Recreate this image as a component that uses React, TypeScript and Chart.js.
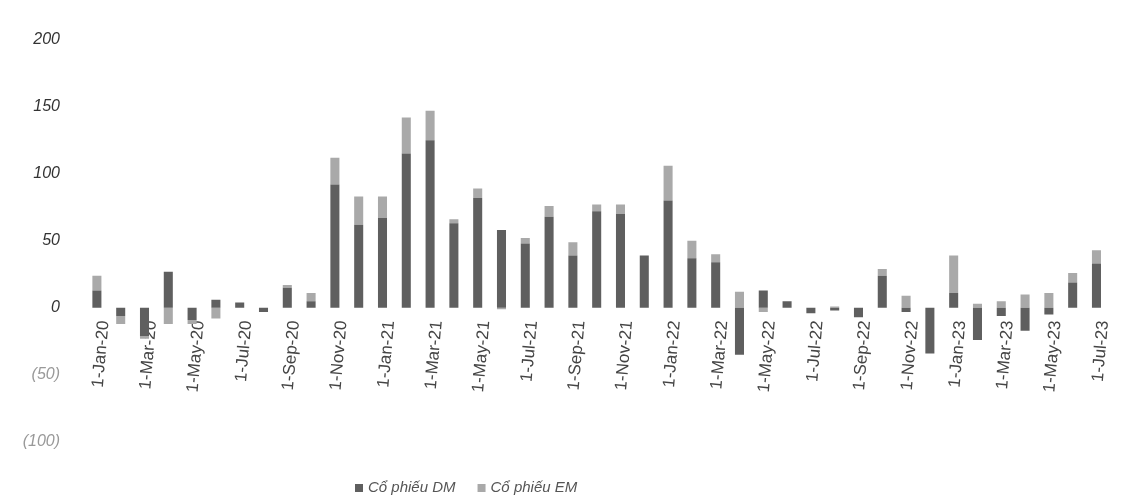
import React, { useEffect, useRef } from "react";
import { Chart, registerables } from "chart.js";

Chart.register(...registerables);

const categories = [
  "1-Jan-20", "1-Feb-20", "1-Mar-20", "1-Apr-20", "1-May-20", "1-Jun-20", "1-Jul-20", "1-Aug-20", "1-Sep-20", "1-Oct-20", "1-Nov-20", "1-Dec-20",
  "1-Jan-21", "1-Feb-21", "1-Mar-21", "1-Apr-21", "1-May-21", "1-Jun-21", "1-Jul-21", "1-Aug-21", "1-Sep-21", "1-Oct-21", "1-Nov-21", "1-Dec-21",
  "1-Jan-22", "1-Feb-22", "1-Mar-22", "1-Apr-22", "1-May-22", "1-Jun-22", "1-Jul-22", "1-Aug-22", "1-Sep-22", "1-Oct-22", "1-Nov-22", "1-Dec-22",
  "1-Jan-23", "1-Feb-23", "1-Mar-23", "1-Apr-23", "1-May-23", "1-Jun-23", "1-Jul-23",
];

const dmValues = [
  13, -6, -21, 27, -9, 6, 4, -3, 15, 5, 92, 62,
  67, 115, 125, 63, 82, 58, 48, 68, 39, 72, 70, 39,
  80, 37, 34, -35, 13, 5, -4, -2, -7, 24, -3, -34,
  11, -24, -6, -17, -5, 19, 33,
];

const emValues = [
  11, -6, -2, -12, -3, -8, 0, 0, 2, 6, 20, 21,
  16, 27, 22, 3, 7, -1, 4, 8, 10, 5, 7, 0,
  26, 13, 6, 12, -3, 0, 0, 1, 0, 5, 9, 0,
  28, 3, 5, 10, 11, 7, 10,
];

const seriesNames = ["Cổ phiếu DM", "Cổ phiếu EM"];
const yTickValues = [200, 150, 100, 50, 0, -50, -100];

const legendPlugin = {
  id: "customLegend",
  afterDraw(chart: any) {
    const ctx = chart.ctx;
    ctx.save();
    ctx.font = 'italic 15px "Liberation Sans", Arial, sans-serif';
    ctx.textBaseline = "middle";
    let x = 347;
    const y = 483;
    chart.data.datasets.forEach((ds: any) => {
      ctx.fillStyle = ds.backgroundColor;
      ctx.fillRect(x, y - 4, 8, 8);
      x += 13;
      ctx.fillStyle = "#555";
      ctx.fillText(ds.label, x, y);
      x += ctx.measureText(ds.label).width + 22;
    });
    ctx.restore();
  },
};

export default function App() {
  const ref = useRef<HTMLCanvasElement | null>(null);
  useEffect(() => {
    if (!ref.current) return;
    const chart = new Chart(ref.current, {
      type: "bar",
      data: {
        labels: categories,
        datasets: [
          { label: seriesNames[0], data: dmValues, backgroundColor: "#5f5f5f" },
          { label: seriesNames[1], data: emValues, backgroundColor: "#a9a9a9" },
        ],
      },
      options: {
        animation: false,
        responsive: true,
        maintainAspectRatio: false,
        layout: { padding: { top: 18, right: 18, left: 0, bottom: 53 } },
        datasets: { bar: { categoryPercentage: 1, barPercentage: 0.38 } },
        plugins: { legend: { display: false }, tooltip: { enabled: false } },
        scales: {
          x: {
            stacked: true,
            position: { y: 0 } as any,
            grid: { display: false, drawTicks: false },
            border: { display: false },
            ticks: {
              autoSkip: false,
              minRotation: 85,
              maxRotation: 85,
              padding: 12,
              labelOffset: 7,
              color: "#444",
              font: { family: '"Liberation Sans", Arial, sans-serif', size: 17 },
              callback: (_v: any, i: number) => (i % 2 === 0 ? categories[i] : ""),
            },
          },
          y: {
            stacked: true,
            min: -100,
            max: 200,
            afterFit: (scale: any) => {
              scale.width = 77;
            },
            afterBuildTicks: (scale: any) => {
              scale.ticks = yTickValues.map((v) => ({ value: v }));
            },
            grid: { display: false, drawTicks: false },
            border: { display: false },
            ticks: {
              padding: 25,
              font: { family: '"Liberation Sans", Arial, sans-serif', size: 16, style: "italic" },
              color: (ctx: any) => (ctx.tick && ctx.tick.value < 0 ? "#999" : "#333"),
              callback: (v: any) => (v < 0 ? `(${-v})` : `${v}`),
            },
          },
        },
      },
      plugins: [legendPlugin],
    });
    return () => chart.destroy();
  }, []);
  return (
    <div style={{ position: "relative", width: 1121, height: 490, marginTop: -3 }}>
      <canvas ref={ref} />
    </div>
  );
}
